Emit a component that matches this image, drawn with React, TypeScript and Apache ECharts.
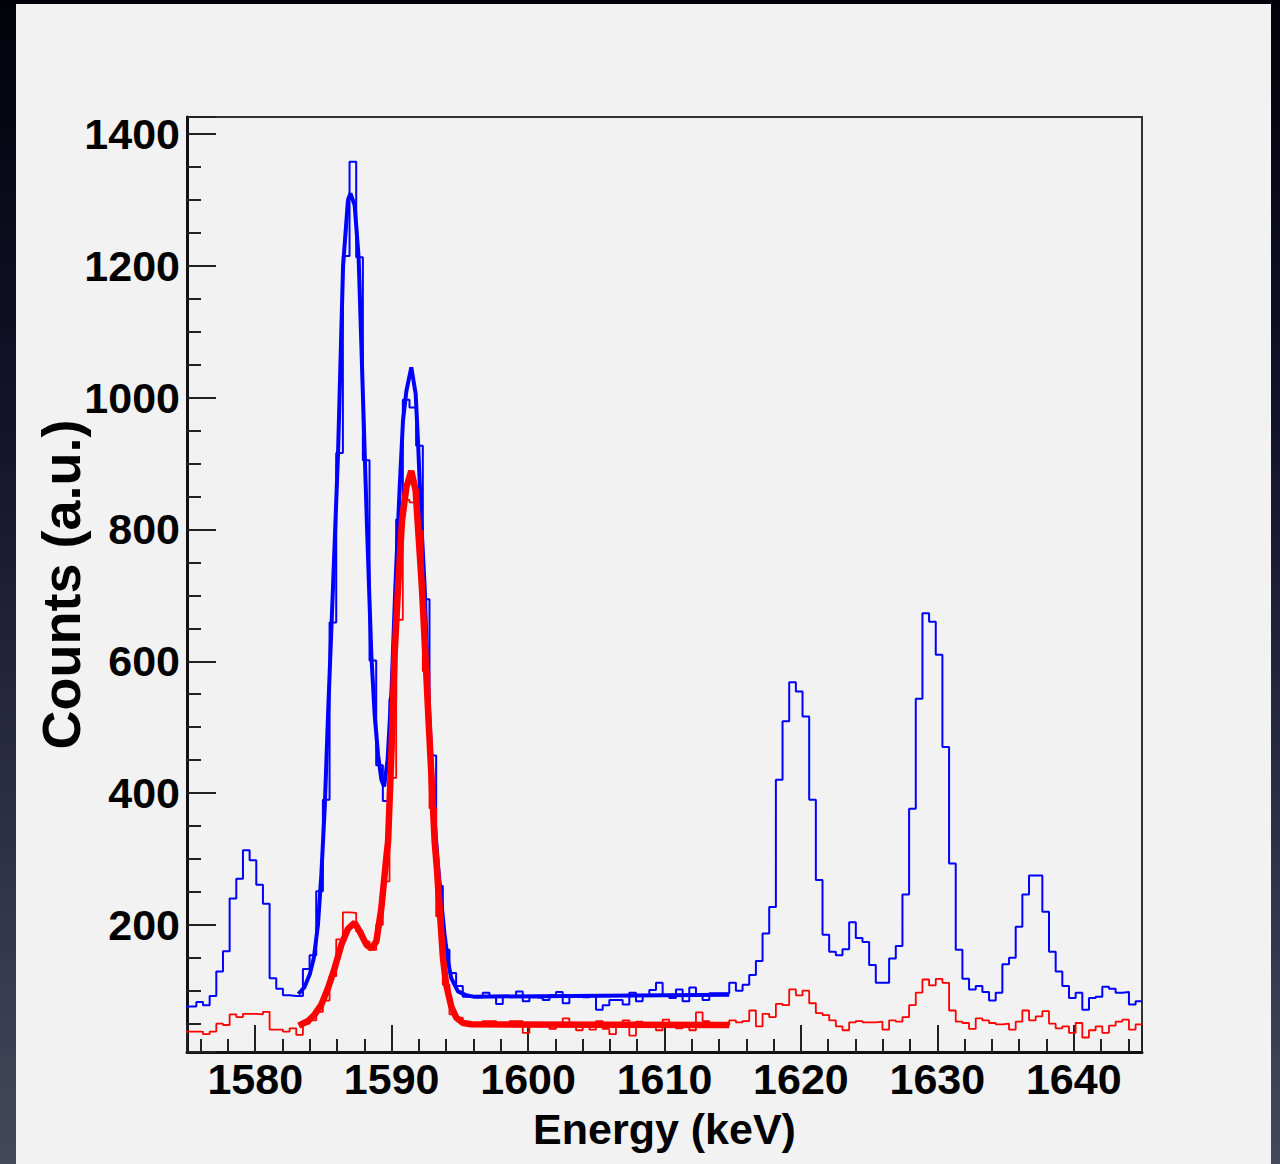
import React, { useEffect, useRef } from "react";
import * as echarts from "echarts";

// Histogram binning: 4096 channels over 2000 keV
const BIN_WIDTH_KEV = 2000 / 4096;
const FIRST_BIN_INDEX = 3225;

const X_MIN = 1575;
const X_MAX = 1645;
const Y_MIN = 7;
const Y_MAX = 1426;

const xTickValues = [1580, 1590, 1600, 1610, 1620, 1630, 1640];
const yTickValues = [200, 400, 600, 800, 1000, 1200, 1400];

// Blue spectrum (counts per bin)
const blueCounts = [
  76, 76, 83, 78, 92, 129, 160, 240, 270, 313,
  298, 261, 232, 119, 103, 93, 92, 92, 133, 154,
  251, 390, 659, 916, 1215, 1358, 1213, 905, 601, 442,
  388, 543, 815, 997, 985, 927, 694, 457, 259, 162,
  127, 107, 91, 90, 90, 97, 91, 80, 91, 91,
  99, 84, 90, 89, 86, 93, 98, 81, 92, 92,
  90, 93, 71, 78, 86, 86, 79, 97, 84, 93,
  101, 112, 92, 89, 102, 84, 105, 92, 86, 96,
  96, 96, 112, 100, 109, 124, 145, 187, 227, 420,
  509, 568, 554, 516, 390, 268, 185, 159, 154, 163,
  204, 180, 174, 139, 112, 112, 149, 168, 246, 376,
  543, 673, 660, 610, 470, 293, 162, 118, 102, 107,
  98, 85, 97, 140, 150, 197, 246, 275, 275, 220,
  159, 129, 107, 89, 97, 71, 89, 91, 106, 103,
  97, 98, 79, 84,
];

// Red spectrum (counts per bin)
const redCounts = [
  38, 38, 38, 34, 38, 50, 48, 64, 60, 65,
  65, 64, 68, 41, 41, 38, 43, 33, 50, 55,
  68, 85, 122, 178, 219, 218, 190, 175, 162, 200,
  266, 423, 663, 845, 841, 798, 585, 377, 213, 109,
  64, 59, 52, 50, 50, 54, 54, 50, 50, 54,
  54, 36, 50, 50, 46, 42, 50, 58, 49, 40,
  50, 41, 54, 42, 34, 48, 55, 32, 53, 45,
  48, 40, 56, 50, 43, 48, 40, 67, 54, 45,
  48, 48, 55, 52, 54, 70, 46, 65, 60, 80,
  78, 102, 93, 100, 81, 66, 63, 55, 46, 40,
  52, 54, 52, 52, 53, 41, 55, 53, 60, 78,
  97, 117, 108, 118, 112, 70, 53, 51, 42, 58,
  55, 51, 49, 50, 41, 53, 70, 55, 61, 69,
  50, 43, 46, 36, 51, 29, 40, 46, 36, 47,
  53, 56, 41, 49,
];

// Fit curves
const blueFitEnergy = [
  1583.16, 1583.6, 1584.0, 1584.3, 1584.6, 1584.85, 1585.1, 1585.34, 1585.7, 1586.07,
  1586.44, 1586.8, 1586.98, 1587.29, 1587.58, 1587.9, 1588.2, 1588.51, 1588.75, 1589.0,
  1589.25, 1589.45, 1589.7, 1590.0, 1590.27, 1590.59, 1590.83, 1591.08, 1591.44, 1591.76,
  1591.93, 1592.17, 1592.42, 1592.66, 1592.9, 1593.15, 1593.4, 1593.64, 1593.88, 1594.13,
  1594.37, 1594.86, 1595.47, 1596.0, 1614.75,
];
const blueFitCounts = [
  95, 105, 125, 150, 200, 277, 380, 520, 712, 915,
  1200, 1300, 1310, 1292, 1213, 1000, 800, 611, 520, 459,
  420, 410, 450, 560, 712, 864, 965, 1010, 1046, 1006,
  935, 813, 712, 560, 459, 357, 290, 235, 185, 145,
  119, 99, 93, 91, 94,
];

const redFitEnergy = [
  1583.19, 1583.88, 1584.36, 1584.85, 1585.34, 1585.83, 1586.32, 1586.8, 1587.17, 1587.29,
  1587.66, 1588.15, 1588.51, 1588.88, 1589.25, 1589.61, 1589.74, 1589.98, 1590.22, 1590.47,
  1590.76, 1591.08, 1591.44, 1591.76, 1591.98, 1592.22, 1592.47, 1592.71, 1592.96, 1593.15,
  1593.3, 1593.5, 1593.76, 1594.0, 1594.37, 1594.74, 1595.23, 1595.83, 1614.75,
];
const redFitCounts = [
  47, 54, 64, 79, 104, 135, 170, 194, 201, 203,
  190, 170, 164, 175, 226, 302, 327, 459, 611, 712,
  813, 864, 889, 859, 788, 712, 611, 509, 408, 327,
  290, 230, 150, 109, 76, 59, 51, 49, 48,
];

function histogramPoints(counts: number[]): number[][] {
  const pts = counts.map((c, i) => [(FIRST_BIN_INDEX + i) * BIN_WIDTH_KEV, c]);
  pts.push([(FIRST_BIN_INDEX + counts.length) * BIN_WIDTH_KEV, counts[counts.length - 1]]);
  return pts;
}

function zipPoints(xs: number[], ys: number[]): number[][] {
  return xs.map((x, i) => [x, ys[i]]);
}

const FONT = "'Liberation Sans', Helvetica, Arial, sans-serif";

export default function App() {
  const ref = useRef<HTMLDivElement>(null);

  useEffect(() => {
    if (!ref.current) return;
    const chart = echarts.init(ref.current, undefined, { renderer: "svg" });
    chart.setOption({
      animation: false,
      backgroundColor: "transparent",
      grid: {
        left: 187,
        top: 117,
        width: 955,
        height: 935,
        show: true,
        backgroundColor: "#f2f2f2",
        borderColor: "#333333",
        borderWidth: 2,
        containLabel: false,
        outerBoundsMode: "none",
      },
      xAxis: {
        type: "value",
        min: X_MIN,
        max: X_MAX,
        splitNumber: 7,
        name: "Energy (keV)",
        nameLocation: "middle",
        nameGap: 55,
        nameMoveOverlap: false,
        nameTextStyle: { fontFamily: FONT, fontWeight: "bold", fontSize: 43, color: "#000" },
        axisLine: { show: true, onZero: false, lineStyle: { color: "#111", width: 3 } },
        axisTick: { show: true, inside: true, length: 27, lineStyle: { color: "#222", width: 2 } },
        minorTick: { show: true, splitNumber: 5, length: 13, lineStyle: { color: "#222", width: 2 } },
        splitLine: { show: false },
        minorSplitLine: { show: false },
        axisLabel: {
          show: true,
          margin: 5,
          fontFamily: FONT,
          fontWeight: "bold",
          fontSize: 43,
          color: "#000",
          formatter: (v: number) => (xTickValues.includes(Math.round(v)) && Math.abs(v - Math.round(v)) < 1e-6 ? String(Math.round(v)) : ""),
        },
      },
      yAxis: {
        type: "value",
        min: Y_MIN,
        max: Y_MAX,
        splitNumber: 7,
        name: "Counts (a.u.)",
        nameLocation: "middle",
        nameRotate: 90,
        nameGap: 99,
        nameMoveOverlap: false,
        nameTextStyle: { fontFamily: FONT, fontWeight: "bold", fontSize: 54, color: "#000" },
        axisLine: { show: true, onZero: false, lineStyle: { color: "#111", width: 3 } },
        axisTick: { show: true, inside: true, length: 29, lineStyle: { color: "#222", width: 2 } },
        minorTick: { show: true, splitNumber: 4, length: 14, lineStyle: { color: "#222", width: 2 } },
        splitLine: { show: false },
        minorSplitLine: { show: false },
        axisLabel: {
          show: true,
          margin: 7,
          fontFamily: FONT,
          fontWeight: "bold",
          fontSize: 43,
          color: "#000",
          formatter: (v: number) => (yTickValues.includes(Math.round(v)) && Math.abs(v - Math.round(v)) < 1e-6 ? String(Math.round(v)) : ""),
        },
      },
      series: [
        {
          name: "Blue spectrum",
          type: "line",
          step: "end",
          data: histogramPoints(blueCounts),
          showSymbol: false,
          symbol: "none",
          lineStyle: { color: "#0000ff", width: 2 },
          z: 2,
        },
        {
          name: "Blue fit",
          type: "line",
          data: zipPoints(blueFitEnergy, blueFitCounts),
          showSymbol: false,
          symbol: "none",
          lineStyle: { color: "#0000ff", width: 4 },
          z: 3,
        },
        {
          name: "Red spectrum",
          type: "line",
          step: "end",
          data: histogramPoints(redCounts),
          showSymbol: false,
          symbol: "none",
          lineStyle: { color: "#ff0000", width: 1.8 },
          z: 4,
        },
        {
          name: "Red fit",
          type: "line",
          data: zipPoints(redFitEnergy, redFitCounts),
          showSymbol: false,
          symbol: "none",
          lineStyle: { color: "#ff0000", width: 6.5 },
          z: 5,
        },
      ],
    });
    return () => chart.dispose();
  }, []);

  return (
    <div
      style={{
        position: "fixed",
        left: 0,
        top: 0,
        width: 1280,
        height: 1164,
        background: "linear-gradient(to bottom, #02020a 0%, #12132a 35%, #2c2e45 70%, #45475a 100%)",
        overflow: "hidden",
      }}
    >
      <div
        style={{
          position: "absolute",
          left: 16,
          top: 4,
          width: 1255,
          height: 1160,
          background: "#f2f2f2",
        }}
      />
      <div ref={ref} style={{ position: "absolute", left: 0, top: 0, width: 1280, height: 1164 }} />
    </div>
  );
}
